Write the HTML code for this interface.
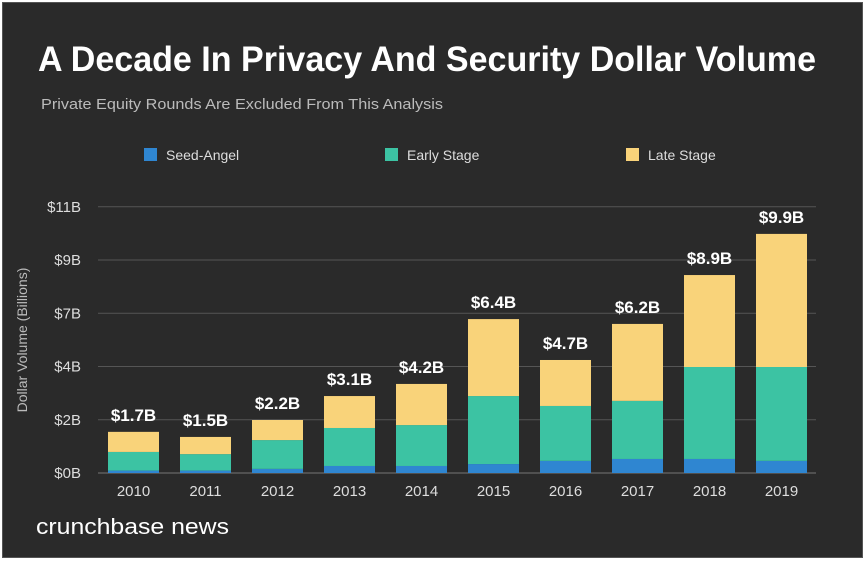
<!DOCTYPE html>
<html><head><meta charset="utf-8"><style>
body{margin:0;background:#fff;}
#wrap{position:absolute;left:2px;top:2px;width:859px;height:554px;background:#2a2a2a;border:1px solid #555;font-family:"Liberation Sans",sans-serif;}
</style></head><body>
<div id="wrap">
<svg width="859" height="554" viewBox="2 2 859 554" id="svg">
<text x="37" y="70" fill="#fff" font-size="35" font-weight="bold" textLength="778" lengthAdjust="spacingAndGlyphs">A Decade In Privacy And Security Dollar Volume</text>
<text x="40" y="108" fill="#bbb" font-size="15" textLength="402" lengthAdjust="spacingAndGlyphs">Private Equity Rounds Are Excluded From This Analysis</text>
<g>
<rect x="143" y="147" width="13" height="13" fill="#2f86d1"/>
<text x="165" y="159" fill="#ddd" font-size="14">Seed-Angel</text>
<rect x="384" y="147" width="13" height="13" fill="#3cc3a3"/>
<text x="406" y="159" fill="#ddd" font-size="14">Early Stage</text>
<rect x="625" y="147" width="13" height="13" fill="#f9d37a"/>
<text x="647" y="159" fill="#ddd" font-size="14">Late Stage</text>
</g>
<text transform="translate(26,339) rotate(-90)" text-anchor="middle" fill="#bbb" font-size="14">Dollar Volume (Billions)</text>
<g id="grid"></g><g id="bars"></g>
<text x="35" y="533" fill="#fff" font-size="22" textLength="193" lengthAdjust="spacingAndGlyphs">crunchbase news</text>
</svg>
</div>
<script>
const years=["2010","2011","2012","2013","2014","2015","2016","2017","2018","2019"];
const seed=[0.1,0.1,0.17,0.29,0.29,0.37,0.5,0.58,0.58,0.5];
const early=[0.77,0.68,1.19,1.57,1.69,2.81,2.27,2.4,3.8,3.88];
const late=[0.83,0.71,0.83,1.32,1.70,3.18,1.90,3.18,3.80,5.50];
const totalLabels=["$1.7B","$1.5B","$2.2B","$3.1B","$4.2B","$6.4B","$4.7B","$6.2B","$8.9B","$9.9B"];
const tickVals=[0,2.2,4.4,6.6,8.8,11];
const tickLabels=["$0B","$2B","$4B","$7B","$9B","$11B"];
const NS="http://www.w3.org/2000/svg";
const y0=472,pxPerB=24.2;
const y=v=>y0-v*pxPerB;
const xc=i=>132.5+72*i;
function mk(t,a,p){const e=document.createElementNS(NS,t);for(const k in a)e.setAttribute(k,a[k]);p.appendChild(e);return e;}
const g=document.getElementById('grid'),b=document.getElementById('bars');
tickVals.forEach((v,i)=>{
 const l=mk('line',{x1:97,x2:815,y1:y(v),y2:y(v),stroke:i==0?'#777':'#555','stroke-width':1},g);
 
 
 const t=mk('text',{x:80,y:y(v)+5,'text-anchor':'end',fill:'#ddd','font-size':15},g);
 t.textContent=tickLabels[i];
 
 
});
years.forEach((yr,i)=>{
 const x=xc(i)-25.5,w=51;
 const s=seed[i],e=early[i],l=late[i],tot=s+e+l;
 const r1=mk('rect',{x:x,y:y(s),width:w,height:s*pxPerB,fill:'#2f86d1'},b);
 
 
 const r2=mk('rect',{x:x,y:y(s+e),width:w,height:e*pxPerB,fill:'#3cc3a3'},b);
 
 
 const r3=mk('rect',{x:x,y:y(tot),width:w,height:l*pxPerB,fill:'#f9d37a'},b);
 
 
 const tl=mk('text',{x:xc(i),y:y(tot)-11,'text-anchor':'middle',fill:'#fff','font-size':17,'font-weight':'bold'},b);
 tl.textContent=totalLabels[i];
 
 
 const xl=mk('text',{x:xc(i),y:495,'text-anchor':'middle',fill:'#ddd','font-size':15},b);
 xl.textContent=yr;
 
 
});
</script>
</body></html>
